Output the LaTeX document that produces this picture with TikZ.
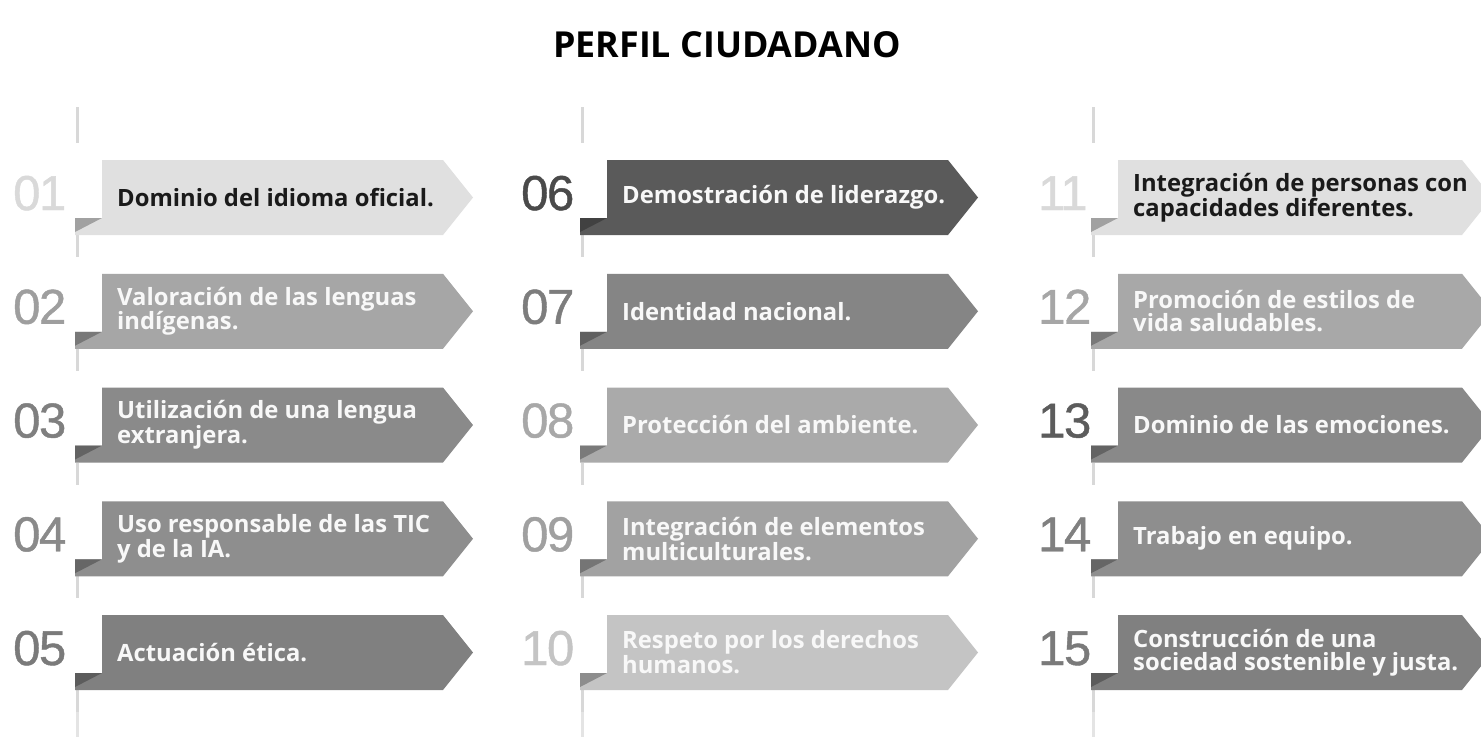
\documentclass[tikz,border=0pt]{standalone}
\usepackage{fontspec}
\newfontfamily\txtfont{Open Sans}
\newfontfamily\numfont{Liberation Sans}[LetterSpace=-3,FakeBold=0.9]
\definecolor{linegray}{HTML}{D8D8D8}
\definecolor{txdark}{HTML}{1A1A1A}
\definecolor{txlight}{HTML}{F8F8F8}
\definecolor{bA}{HTML}{E0E0E0}\definecolor{nA}{HTML}{D9D9D9}
\definecolor{bB}{HTML}{A6A6A6}\definecolor{nB}{HTML}{9E9E9E}
\definecolor{bC}{HTML}{8A8A8A}\definecolor{nC}{HTML}{7F7F7F}
\definecolor{bD}{HTML}{8E8E8E}\definecolor{nD}{HTML}{8A8A8A}
\definecolor{bE}{HTML}{808080}\definecolor{nE}{HTML}{7A7A7A}
\definecolor{bF}{HTML}{5A5A5A}\definecolor{nF}{HTML}{4A4A4A}
\definecolor{bG}{HTML}{858585}\definecolor{nG}{HTML}{7D7D7D}
\definecolor{bH}{HTML}{AAAAAA}\definecolor{nH}{HTML}{A8A8A8}
\definecolor{bI}{HTML}{A2A2A2}\definecolor{nI}{HTML}{A0A0A0}
\definecolor{bJ}{HTML}{C4C4C4}\definecolor{nJ}{HTML}{C4C4C4}
\definecolor{bK}{HTML}{E0E0E0}\definecolor{nK}{HTML}{D9D9D9}
\definecolor{bL}{HTML}{A8A8A8}\definecolor{nL}{HTML}{A6A6A6}
\definecolor{bM}{HTML}{898989}\definecolor{nM}{HTML}{5C5C5C}
\definecolor{bN}{HTML}{8E8E8E}\definecolor{nN}{HTML}{808080}
\definecolor{bO}{HTML}{808080}\definecolor{nO}{HTML}{7A7A7A}
\tikzset{
  linkline/.style={draw=linegray, line width=3pt},
  itemtext/.style={anchor=west, align=left, inner sep=0pt, font=\txtfont\bfseries\fontsize{23.8}{23.5}\selectfont},
  itemnum/.style={anchor=base west, inner sep=0pt, font=\numfont\fontsize{49}{49}\selectfont},
}
% #1 line x, #2 right corner x, #3 number x, #4 top y, #5 id, #6 box colour, #7 number colour, #8 text colour, #9 text
\newcommand{\ribbonitem}[9]{%
  \draw[linkline] (#1,#4+75) -- (#1,#4+97);
  \fill[#6] (#1+25,#4) -- (#2,#4) -- (#2+30,#4+37.5) -- (#2,#4+75) -- (#1-2,#4+75) -- (#1-2,#4+58) -- (#1+25,#4+58) -- cycle;
  \fill[#6!72!black] (#1-2,#4+58) -- (#1+25,#4+58) -- (#1-2,#4+72) -- cycle;
  \node[itemnum, text=#7] (n#5) at (#3,#4+50) {#5};
  \node[itemtext, text=#8] (t#5) at (#1+40,#4+37.5) {#9};
}
\begin{document}
\begin{tikzpicture}[x=1pt,y=-1pt]
\useasboundingbox (0,0) rectangle (1481,740);
\clip (0,0) rectangle (1481,740);
\fill[white] (0,0) rectangle (1481,740);
\node[font=\txtfont\bfseries\fontsize{35.8}{36}\selectfont, text=black] (title) at (727,45) {PERFIL CIUDADANO};
\draw[linkline] (77,107) -- (77,143);
\draw[linkline] (582,107) -- (582,143);
\draw[linkline] (1093,107) -- (1093,143);
\draw[linkline, draw=linegray!70] (77,690) -- (77,737);
\draw[linkline, draw=linegray!70] (582,690) -- (582,737);
\draw[linkline, draw=linegray!70] (1093,690) -- (1093,737);
\ribbonitem{77}{443}{13}{160}{01}{bA}{nA}{txdark}{Dominio del idioma oficial.}
\ribbonitem{77}{443}{13}{273.75}{02}{bB}{nB}{txlight}{Valoración de las lenguas\\indígenas.}
\ribbonitem{77}{443}{13}{387.5}{03}{bC}{nC}{txlight}{Utilización de una lengua\\extranjera.}
\ribbonitem{77}{443}{13}{501.25}{04}{bD}{nD}{txlight}{Uso responsable de las TIC\\y de la IA.}
\ribbonitem{77}{443}{13}{615}{05}{bE}{nE}{txlight}{Actuación ética.}
\ribbonitem{582}{948}{521}{160}{06}{bF}{nF}{txlight}{Demostración de liderazgo.}
\ribbonitem{582}{948}{521}{273.75}{07}{bG}{nG}{txlight}{Identidad nacional.}
\ribbonitem{582}{948}{521}{387.5}{08}{bH}{nH}{txlight}{Protección del ambiente.}
\ribbonitem{582}{948}{521}{501.25}{09}{bI}{nI}{txlight}{Integración de elementos\\multiculturales.}
\ribbonitem{582}{948}{521}{615}{10}{bJ}{nJ}{txlight}{Respeto por los derechos\\humanos.}
\ribbonitem{1093}{1462}{1038}{160}{11}{bK}{nK}{txdark}{Integración de personas con\\capacidades diferentes.}
\ribbonitem{1093}{1462}{1038}{273.75}{12}{bL}{nL}{txlight}{Promoción de estilos de\\vida saludables.}
\ribbonitem{1093}{1462}{1038}{387.5}{13}{bM}{nM}{txlight}{Dominio de las emociones.}
\ribbonitem{1093}{1462}{1038}{501.25}{14}{bN}{nN}{txlight}{Trabajo en equipo.}
\ribbonitem{1093}{1462}{1038}{615}{15}{bO}{nO}{txlight}{Construcción de una\\sociedad sostenible y justa.}
\end{tikzpicture}
\end{document}
